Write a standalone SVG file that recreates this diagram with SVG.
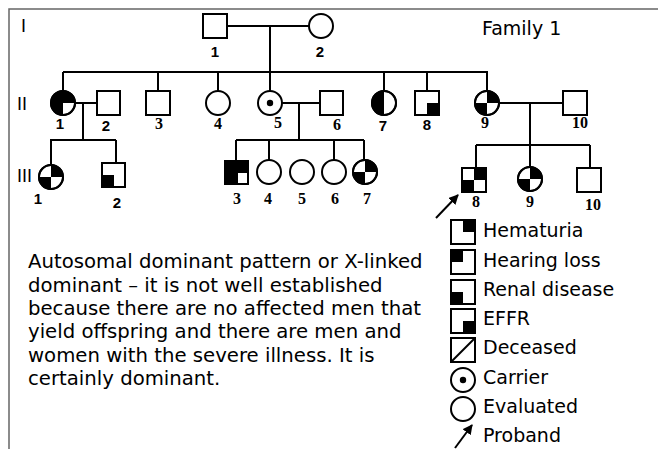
<svg xmlns="http://www.w3.org/2000/svg" width="659" height="449" viewBox="0 0 659 449">
<style>
.ln{stroke:#000;stroke-width:2;fill:none}
.sym{fill:#fff;stroke:#000;stroke-width:2}
.blk{fill:#000;stroke:none}
.ns{font-family:"Liberation Sans",Arial,sans-serif;font-weight:bold;font-size:15px;text-anchor:middle;fill:#000}
.nr{font-family:"Liberation Serif","Times New Roman",serif;font-weight:bold;font-size:16px;text-anchor:middle;fill:#000}
.gen{font-family:"Liberation Sans",Arial,sans-serif;font-size:18px;fill:#000}
.tx{font-family:"DejaVu Sans",Verdana,sans-serif;font-size:19px;fill:#000}
.pt{font-family:"DejaVu Sans",Verdana,sans-serif;font-size:19.7px;fill:#000}
</style>
<defs>
<path id="qtr" d="M0,0V-12A12,12 0 0 1 12,0Z"/>
<path id="qbl" d="M0,0V12A12,12 0 0 1 -12,0Z"/>
<path id="qtl" d="M0,0H-12A12,12 0 0 1 0,-12Z"/>
<path id="hl" d="M0,-12A12,12 0 0 0 0,12Z"/>
<marker id="ah" viewBox="0 0 10 10" refX="9" refY="5" markerWidth="5" markerHeight="5" orient="auto" markerUnits="strokeWidth">
<path d="M0,0L10,5L0,10Z" fill="#000"/>
</marker>
</defs>
<rect width="659" height="449" fill="#fff"/>
<path d="M9,449V9H658" stroke="#666" stroke-width="1.5" fill="none"/>
<text class="gen" x="21" y="32">I</text>
<text class="gen" x="17" y="110">II</text>
<text class="gen" x="17" y="182">III</text>
<text class="tx" x="482" y="35">Family 1</text>

<g id="connectors">
<path class="ln" d="M227,26H309M270,26V72M63,72H488"/>
<path class="ln" d="M63,72V91M158,72V91M218,72V91M270,72V91M384,72V91M427,72V91M487,72V91"/>
<path class="ln" d="M75,103H97M83,103V140M50,140H116M51,140V165M116,140V163"/>
<path class="ln" d="M282,103H320M299,103V140M236,140H364M236,140V160M269,140V160M334,140V160M364,140V160"/>
<path class="ln" d="M499,103H563M530,103V145M476,145H590M476,145V168M530,145V167M590,145V168"/>
<path class="ln" d="M436,218L458,195" stroke-width="2.5" marker-end="url(#ah)"/>
</g>

<g id="I-1"><rect class="sym" x="203" y="14" width="24" height="24"/><text class="ns" x="215" y="57">1</text></g>
<g id="I-2"><circle class="sym" cx="321" cy="26" r="12"/><text class="ns" x="320" y="57">2</text></g>

<g id="II-1" transform="translate(63,103)"><circle class="sym" r="12"/><use href="#qtr" class="blk"/><use href="#qtl" class="blk"/><use href="#qbl" class="blk"/><circle r="12" fill="none" stroke="#000" stroke-width="2"/><text class="ns" x="-3" y="26">1</text></g>
<g id="II-2"><rect class="sym" x="97" y="91" width="23" height="24"/><text class="ns" x="106" y="131">2</text></g>
<g id="II-3"><rect class="sym" x="146" y="91" width="24" height="24"/><text class="nr" x="159" y="129">3</text></g>
<g id="II-4"><circle class="sym" cx="218" cy="103" r="12"/><text class="nr" x="218" y="129">4</text></g>
<g id="II-5"><circle class="sym" cx="270" cy="103" r="12"/><circle cx="270" cy="103" r="3.2" fill="#000"/><text class="nr" x="278" y="128">5</text></g>
<g id="II-6"><rect class="sym" x="320" y="91" width="23" height="24"/><text class="nr" x="337" y="130">6</text></g>
<g id="II-7" transform="translate(384,103)"><circle class="sym" r="12"/><use href="#hl" class="blk"/><circle r="12" fill="none" stroke="#000" stroke-width="2"/><text class="ns" x="-1" y="28">7</text></g>
<g id="II-8"><rect class="sym" x="415" y="91" width="24" height="24"/><rect class="blk" x="427" y="103" width="12" height="12"/><text class="ns" x="427" y="130">8</text></g>
<g id="II-9" transform="translate(487,103)"><circle class="sym" r="12"/><use href="#qtr" class="blk"/><use href="#qbl" class="blk"/><circle r="12" fill="none" stroke="#000" stroke-width="2"/><text class="nr" x="-2" y="25">9</text></g>
<g id="II-10"><rect class="sym" x="563" y="91" width="24" height="24"/><text class="nr" x="580" y="128">10</text></g>

<g id="III-1" transform="translate(51,177)"><circle class="sym" r="12"/><use href="#qtr" class="blk"/><use href="#qbl" class="blk"/><circle r="12" fill="none" stroke="#000" stroke-width="2"/><text class="ns" x="-13" y="27">1</text></g>
<g id="III-2"><rect class="sym" x="102" y="163" width="23" height="24"/><rect class="blk" x="102" y="175" width="12" height="12"/><text class="ns" x="117" y="208">2</text></g>
<g id="III-3"><rect class="blk" x="224" y="160" width="25" height="25"/><rect fill="#fff" x="238" y="173" width="10" height="11"/><rect x="225" y="161" width="23" height="23" fill="none" stroke="#000" stroke-width="2"/><text class="nr" x="237" y="204">3</text></g>
<g id="III-4"><circle class="sym" cx="269" cy="172" r="12"/><text class="nr" x="268" y="204">4</text></g>
<g id="III-5"><circle class="sym" cx="302" cy="172" r="12"/><text class="nr" x="302" y="204">5</text></g>
<g id="III-6"><circle class="sym" cx="334" cy="172" r="12"/><text class="nr" x="335" y="204">6</text></g>
<g id="III-7" transform="translate(365,172)"><circle class="sym" r="12"/><use href="#qtr" class="blk"/><use href="#qbl" class="blk"/><circle r="12" fill="none" stroke="#000" stroke-width="2"/><text class="nr" x="2" y="32">7</text></g>
<g id="III-8"><rect class="sym" x="462" y="168" width="24" height="24"/><rect class="blk" x="474" y="168" width="12" height="12"/><rect class="blk" x="462" y="180" width="12" height="12"/><rect x="462" y="168" width="24" height="24" fill="none" stroke="#000" stroke-width="2"/><text class="nr" x="476" y="207">8</text></g>
<g id="III-9" transform="translate(530,179)"><circle class="sym" r="12"/><use href="#qtr" class="blk"/><use href="#qbl" class="blk"/><circle r="12" fill="none" stroke="#000" stroke-width="2"/><text class="nr" x="0" y="28">9</text></g>
<g id="III-10"><rect class="sym" x="577" y="168" width="24" height="24"/><text class="nr" x="593" y="210">10</text></g>

<g id="legend">
<rect class="sym" x="451" y="220" width="24" height="24"/><rect class="blk" x="463" y="220" width="12" height="12"/>
<rect class="sym" x="451" y="250" width="24" height="24"/><rect class="blk" x="451" y="250" width="12" height="12"/>
<rect class="sym" x="451" y="280" width="24" height="24"/><rect class="blk" x="451" y="292" width="12" height="12"/>
<rect class="sym" x="451" y="309" width="24" height="24"/><rect class="blk" x="463" y="321" width="12" height="12"/>
<rect class="sym" x="451" y="338" width="24" height="24"/><path class="ln" d="M451,362L475,338"/>
<circle class="sym" cx="463" cy="380" r="12"/><circle cx="463" cy="380" r="3.2" fill="#000"/>
<circle class="sym" cx="463" cy="409" r="12"/>
<path class="ln" d="M455,448L472,425" stroke-width="2.5" marker-end="url(#ah)"/>
<text class="tx" x="483" y="237">Hematuria</text>
<text class="tx" x="483" y="267">Hearing loss</text>
<text class="tx" x="483" y="296">Renal disease</text>
<text class="tx" x="483" y="325">EFFR</text>
<text class="tx" x="483" y="354">Deceased</text>
<text class="tx" x="483" y="384">Carrier</text>
<text class="tx" x="483" y="413">Evaluated</text>
<text class="tx" x="483" y="442">Proband</text>
</g>

<g id="note" class="pt">
<text x="28" y="268">Autosomal dominant pattern or X-linked</text>
<text x="28" y="292">dominant – it is not well established</text>
<text x="28" y="315">because there are no affected men that</text>
<text x="28" y="338">yield offspring and there are men and</text>
<text x="28" y="362">women with the severe illness. It is</text>
<text x="28" y="385">certainly dominant.</text>
</g>
</svg>
